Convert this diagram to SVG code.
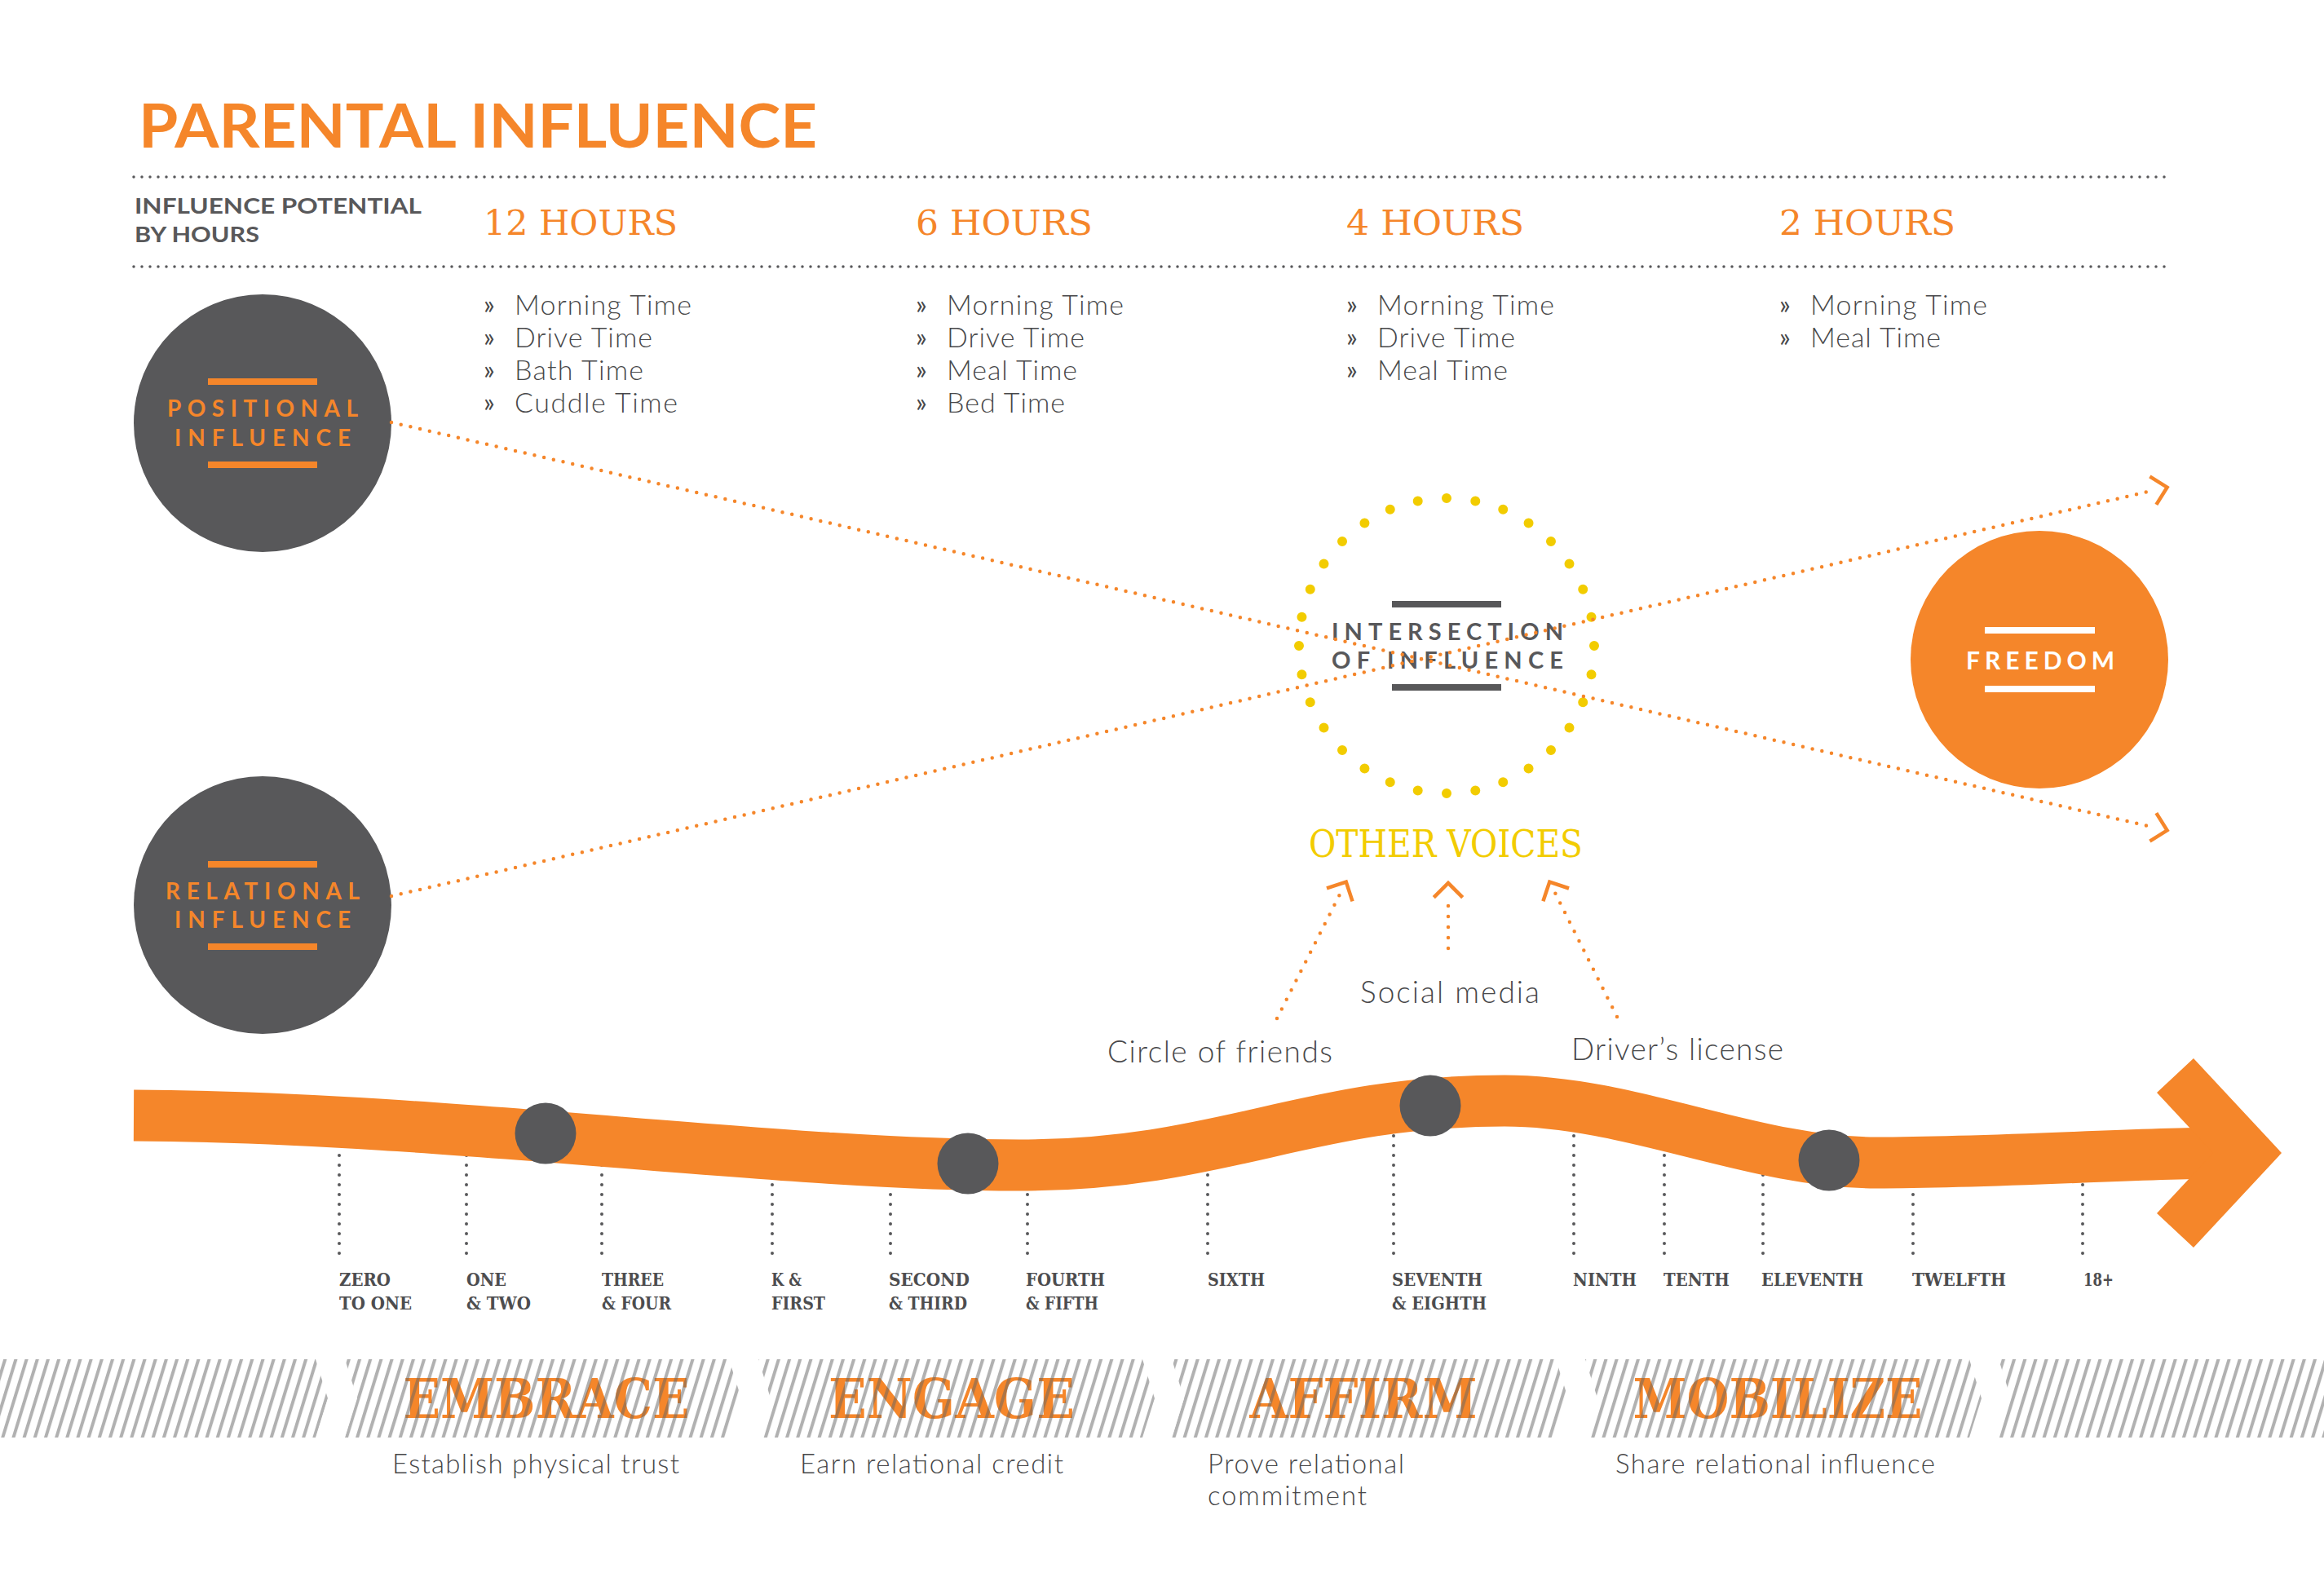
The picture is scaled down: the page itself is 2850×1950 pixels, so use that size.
<svg xmlns="http://www.w3.org/2000/svg" width="2850" height="1950" viewBox="0 0 2850 1950">
<style>
.sans{font-family:Lato,"Liberation Sans","DejaVu Sans",sans-serif}
.slab{font-family:"DejaVu Serif","Liberation Serif",serif}
.title{font-weight:700;font-size:74px;fill:#F5862A}
.hdr{font-weight:700;font-size:26px;fill:#58585A}
.hours{font-size:43px;fill:#F5862A}
.item{font-weight:300;font-size:34px;fill:#48484A}
.bullet{font-weight:400;font-size:32px;fill:#48484A}
.nlbl{font-weight:700;font-size:28px}
.stage{font-weight:700;font-size:68px;fill:#F5862A}
.grade{font-stretch:condensed;font-weight:700;font-size:23px;fill:#4D4D4F}
.sub{font-weight:300;font-size:33px;fill:#48484A}
.voice{font-weight:300;font-size:37px;fill:#48484A}
.voices{font-size:46px;fill:#F2CC00}
.rule{stroke:#58585A;stroke-width:3.5;stroke-linecap:round;stroke-dasharray:0 10;fill:none}
.tick{stroke:#58585A;stroke-width:4;stroke-linecap:round;stroke-dasharray:0 12;fill:none}
.conn{stroke:#F5862A;stroke-width:4.5;stroke-linecap:round;stroke-dasharray:0 12;fill:none}
.conn2{stroke:#F5862A;stroke-width:4.5;stroke-linecap:round;stroke-dasharray:0 13;fill:none}
.gray{fill:#58585A}
.orange{fill:#F5862A}
.white{fill:#FFFFFF}
</style>
<defs>
<marker id="chev" viewBox="-22 -22 26 44" refX="-15" refY="0" markerWidth="26" markerHeight="44" markerUnits="userSpaceOnUse" orient="auto" overflow="visible">
<path d="M-17.7,-17.7 L0,0 L-17.7,17.7" fill="none" stroke="#F5862A" stroke-width="4.5"/>
</marker>
<pattern id="hatch" width="12.6" height="200" patternUnits="userSpaceOnUse" patternTransform="rotate(17)">
<rect x="0" y="0" width="4" height="200" fill="#646464" fill-opacity="0.5"/>
</pattern>
</defs>

<rect width="2850" height="1950" fill="#FFFFFF"/>

<g id="header">
<text class="sans title" x="170" y="181" textLength="832" lengthAdjust="spacingAndGlyphs">PARENTAL INFLUENCE</text>
<path class="rule" d="M164,217 H2664"/>
<path class="rule" d="M164,327 H2664"/>
<text class="sans hdr" x="165" y="262" textLength="352" lengthAdjust="spacingAndGlyphs">INFLUENCE POTENTIAL</text>
<text class="sans hdr" x="165" y="297" textLength="153" lengthAdjust="spacingAndGlyphs">BY HOURS</text>
</g>

<g id="col-12-hours">
<text class="slab hours" x="593" y="288" textLength="238" lengthAdjust="spacingAndGlyphs">12 HOURS</text>
<text class="sans bullet" x="593" y="385">»</text><text class="sans item" x="631" y="386" textLength="217">Morning Time</text>
<text class="sans bullet" x="593" y="425">»</text><text class="sans item" x="631" y="426" textLength="169">Drive Time</text>
<text class="sans bullet" x="593" y="465">»</text><text class="sans item" x="631" y="466" textLength="158">Bath Time</text>
<text class="sans bullet" x="593" y="505">»</text><text class="sans item" x="631" y="506" textLength="200">Cuddle Time</text>
</g>
<g id="col-6-hours">
<text class="slab hours" x="1123" y="288" textLength="217" lengthAdjust="spacingAndGlyphs">6 HOURS</text>
<text class="sans bullet" x="1123" y="385">»</text><text class="sans item" x="1161" y="386" textLength="217">Morning Time</text>
<text class="sans bullet" x="1123" y="425">»</text><text class="sans item" x="1161" y="426" textLength="169">Drive Time</text>
<text class="sans bullet" x="1123" y="465">»</text><text class="sans item" x="1161" y="466" textLength="160">Meal Time</text>
<text class="sans bullet" x="1123" y="505">»</text><text class="sans item" x="1161" y="506" textLength="145">Bed Time</text>
</g>
<g id="col-4-hours">
<text class="slab hours" x="1651" y="288" textLength="218" lengthAdjust="spacingAndGlyphs">4 HOURS</text>
<text class="sans bullet" x="1651" y="385">»</text><text class="sans item" x="1689" y="386" textLength="217">Morning Time</text>
<text class="sans bullet" x="1651" y="425">»</text><text class="sans item" x="1689" y="426" textLength="169">Drive Time</text>
<text class="sans bullet" x="1651" y="465">»</text><text class="sans item" x="1689" y="466" textLength="160">Meal Time</text>
</g>
<g id="col-2-hours">
<text class="slab hours" x="2182" y="288" textLength="216" lengthAdjust="spacingAndGlyphs">2 HOURS</text>
<text class="sans bullet" x="2182" y="385">»</text><text class="sans item" x="2220" y="386" textLength="217">Morning Time</text>
<text class="sans bullet" x="2182" y="425">»</text><text class="sans item" x="2220" y="426" textLength="160">Meal Time</text>
</g>

<g id="positional-influence">
<circle class="gray" cx="322" cy="519" r="158"/>
<rect class="orange" x="255" y="464" width="134" height="8"/>
<rect class="orange" x="255" y="566" width="134" height="8"/>
<text class="sans nlbl orange" x="322" y="511" text-anchor="middle" textLength="234">POSITIONAL</text>
<text class="sans nlbl orange" x="322" y="547" text-anchor="middle" textLength="216">INFLUENCE</text>
</g>

<g id="relational-influence">
<circle class="gray" cx="322" cy="1110" r="158"/>
<rect class="orange" x="255" y="1056" width="134" height="8"/>
<rect class="orange" x="255" y="1157" width="134" height="8"/>
<text class="sans nlbl orange" x="322" y="1103" text-anchor="middle" textLength="238">RELATIONAL</text>
<text class="sans nlbl orange" x="322" y="1138" text-anchor="middle" textLength="216">INFLUENCE</text>
</g>

<g id="intersection-of-influence">
<circle cx="1774" cy="792" r="181" fill="none" stroke="#F2CC00" stroke-width="12" stroke-linecap="round" stroke-dasharray="0 1" pathLength="32"/>
<rect class="gray" x="1707" y="737" width="134" height="8"/>
<rect class="gray" x="1707" y="839" width="134" height="8"/>
<text class="sans nlbl gray" x="1775" y="785" text-anchor="middle" textLength="284" style="font-size:29px">INTERSECTION</text>
<text class="sans nlbl gray" x="1775" y="820" text-anchor="middle" textLength="284" style="font-size:29px">OF INFLUENCE</text>
</g>

<g id="freedom">
<circle class="orange" cx="2501" cy="809" r="158"/>
<rect class="white" x="2434" y="769" width="135" height="8"/>
<rect class="white" x="2434" y="841" width="135" height="8"/>
<text class="sans nlbl white" x="2502" y="821" text-anchor="middle" textLength="182" style="font-size:30px">FREEDOM</text>
</g>

<g id="other-voices">
<text class="slab voices" x="1773" y="1051" text-anchor="middle" textLength="336" lengthAdjust="spacingAndGlyphs">OTHER VOICES</text>
</g>
<g id="voice-social-media">
<text class="sans voice" x="1668" y="1230" textLength="220">Social media</text>
</g>
<g id="voice-circle-of-friends">
<text class="sans voice" x="1358" y="1303" textLength="276">Circle of friends</text>
</g>
<g id="voice-drivers-license">
<text class="sans voice" x="1927" y="1300" textLength="260">Driver’s license</text>
</g>

<g id="connectors">
<path class="conn" d="M480,518 L2643,1015" marker-end="url(#chev)"/>
<path class="conn" d="M480,1099 L2643,601" marker-end="url(#chev)"/>
<path class="conn2" d="M1566,1249 L1644,1095" marker-end="url(#chev)"/>
<path class="conn2" d="M1776,1163 L1776,1098" marker-end="url(#chev)"/>
<path class="conn2" d="M1983,1247 L1907,1095" marker-end="url(#chev)"/>
</g>

<g id="timeline">
<path class="tick" d="M416,1537 V1370"/>
<path class="tick" d="M572,1537 V1380"/>
<path class="tick" d="M738,1537 V1395"/>
<path class="tick" d="M947,1537 V1415"/>
<path class="tick" d="M1092,1537 V1425"/>
<path class="tick" d="M1260,1537 V1428"/>
<path class="tick" d="M1481,1537 V1405"/>
<path class="tick" d="M1709,1537 V1360"/>
<path class="tick" d="M1930,1537 V1355"/>
<path class="tick" d="M2041,1537 V1377"/>
<path class="tick" d="M2162,1537 V1408"/>
<path class="tick" d="M2346,1537 V1425"/>
<path class="tick" d="M2554,1537 V1418"/>
<path d="M164,1368 C550,1370 950,1429 1250,1429 C1500,1429 1600,1350 1845,1350 C2000,1350 2150,1426 2300,1426 C2450,1426 2600,1415 2722,1414" fill="none" stroke="#F5862A" stroke-width="63"/>
<polygon class="orange" points="2690,1298 2798,1414 2690,1530 2645,1488 2714,1414 2645,1340"/>
<circle class="gray" cx="669" cy="1390" r="37.5"/>
<circle class="gray" cx="1187" cy="1427" r="37.5"/>
<circle class="gray" cx="1754" cy="1356" r="37.5"/>
<circle class="gray" cx="2243" cy="1423" r="37.5"/>
</g>

<g id="grade-labels">
<text class="slab grade" x="416" y="1577" textLength="63" lengthAdjust="spacingAndGlyphs">ZERO</text>
<text class="slab grade" x="416" y="1606" textLength="89" lengthAdjust="spacingAndGlyphs">TO ONE</text>
<text class="slab grade" x="572" y="1577" textLength="49" lengthAdjust="spacingAndGlyphs">ONE</text>
<text class="slab grade" x="572" y="1606" textLength="79" lengthAdjust="spacingAndGlyphs">&amp; TWO</text>
<text class="slab grade" x="738" y="1577" textLength="76" lengthAdjust="spacingAndGlyphs">THREE</text>
<text class="slab grade" x="738" y="1606" textLength="85" lengthAdjust="spacingAndGlyphs">&amp; FOUR</text>
<text class="slab grade" x="946" y="1577" textLength="37" lengthAdjust="spacingAndGlyphs">K &amp;</text>
<text class="slab grade" x="946" y="1606" textLength="66" lengthAdjust="spacingAndGlyphs">FIRST</text>
<text class="slab grade" x="1090" y="1577" textLength="99" lengthAdjust="spacingAndGlyphs">SECOND</text>
<text class="slab grade" x="1090" y="1606" textLength="96" lengthAdjust="spacingAndGlyphs">&amp; THIRD</text>
<text class="slab grade" x="1258" y="1577" textLength="97" lengthAdjust="spacingAndGlyphs">FOURTH</text>
<text class="slab grade" x="1258" y="1606" textLength="89" lengthAdjust="spacingAndGlyphs">&amp; FIFTH</text>
<text class="slab grade" x="1481" y="1577" textLength="70" lengthAdjust="spacingAndGlyphs">SIXTH</text>
<text class="slab grade" x="1707" y="1577" textLength="111" lengthAdjust="spacingAndGlyphs">SEVENTH</text>
<text class="slab grade" x="1707" y="1606" textLength="116" lengthAdjust="spacingAndGlyphs">&amp; EIGHTH</text>
<text class="slab grade" x="1929" y="1577" textLength="78" lengthAdjust="spacingAndGlyphs">NINTH</text>
<text class="slab grade" x="2040" y="1577" textLength="81" lengthAdjust="spacingAndGlyphs">TENTH</text>
<text class="slab grade" x="2160" y="1577" textLength="125" lengthAdjust="spacingAndGlyphs">ELEVENTH</text>
<text class="slab grade" x="2345" y="1577" textLength="115" lengthAdjust="spacingAndGlyphs">TWELFTH</text>
<text class="slab grade" x="2555" y="1577" textLength="37" lengthAdjust="spacingAndGlyphs">18+</text>
</g>

<g id="stages">
<text class="slab stage" x="670" y="1739" text-anchor="middle" textLength="351" lengthAdjust="spacingAndGlyphs">EMBRACE</text>
<text class="slab stage" x="1167" y="1739" text-anchor="middle" textLength="302" lengthAdjust="spacingAndGlyphs">ENGAGE</text>
<text class="slab stage" x="1672" y="1739" text-anchor="middle" textLength="279" lengthAdjust="spacingAndGlyphs">AFFIRM</text>
<text class="slab stage" x="2180" y="1739" text-anchor="middle" textLength="355" lengthAdjust="spacingAndGlyphs">MOBILIZE</text>
<g fill="url(#hatch)">
<polygon points="-20,1667 387,1667 402,1715 387,1763 -20,1763"/>
<polygon points="423,1667 894,1667 909,1715 894,1763 423,1763 438,1715"/>
<polygon points="930,1667 1401,1667 1416,1715 1401,1763 930,1763 945,1715"/>
<polygon points="1437,1667 1908,1667 1923,1715 1908,1763 1437,1763 1452,1715"/>
<polygon points="1944,1667 2415,1667 2430,1715 2415,1763 1944,1763 1959,1715"/>
<polygon points="2451,1667 2870,1667 2870,1763 2451,1763 2466,1715"/>
</g>
<text class="sans sub" x="481" y="1807" textLength="352">Establish physical trust</text>
<text class="sans sub" x="981" y="1807" textLength="323">Earn relational credit</text>
<text class="sans sub" x="1481" y="1807" textLength="241">Prove relational</text>
<text class="sans sub" x="1481" y="1846" textLength="195">commitment</text>
<text class="sans sub" x="1981" y="1807" textLength="392">Share relational influence</text>
</g>
</svg>
